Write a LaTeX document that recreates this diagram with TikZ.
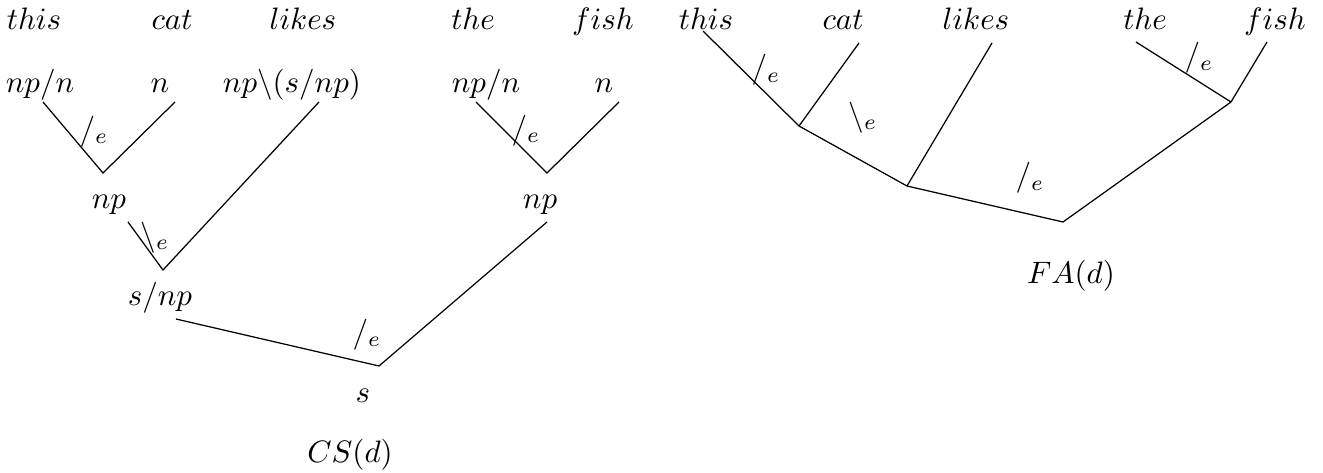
\documentclass[tikz,border=0pt]{standalone}
\begin{document}
\begin{tikzpicture}[x=0.3226pt,y=-0.3226pt,
  lbl/.style={anchor=base,inner sep=0pt},
  rl/.style={anchor=base west,inner sep=0pt},
  edge/.style={draw,line width=0.4pt}]
\useasboundingbox (0,0) rectangle (1323,473);
% ---- CS(d) tree ----
\node[lbl] (this1) at (34,29) {$this$};
\node[lbl] (cat1) at (172,29) {$cat$};
\node[lbl] (likes1) at (303,29) {$likes$};
\node[lbl] (the1) at (473,29) {$the$};
\node[lbl] (fish1) at (603,29) {$fish$};
\node[lbl] (c1) at (40,92) {$np/n$};
\node[lbl] (c2) at (160,92) {$n$};
\node[lbl] (c3) at (292,92) {$np\backslash(s/np)$};
\node[lbl] (c4) at (486,92) {$np/n$};
\node[lbl] (c5) at (604,92) {$n$};
\node[lbl] (np1) at (109,208) {$np$};
\node[lbl] (np2) at (540,208) {$np$};
\node[lbl] (snp) at (160,305) {$s/np$};
\node[lbl] (s) at (363,402) {$s$};
\node[lbl] (cs) at (350,462) {$CS(d)$};
\coordinate (a1) at (43,102);
\coordinate (a2) at (175,102);
\coordinate (j1) at (103,173);
\coordinate (a3) at (319,102);
\coordinate (a4) at (128,222);
\coordinate (j2) at (163,270);
\coordinate (a5) at (176,319);
\coordinate (j3) at (379,366);
\coordinate (a6) at (547,222);
\coordinate (a7) at (476,102);
\coordinate (a8) at (619,102);
\coordinate (j4) at (547,173);
\draw[edge] (a1) -- (j1) -- (a2);
\draw[edge] (a4) -- (j2) -- (a3);
\draw[edge] (a5) -- (j3) -- (a6);
\draw[edge] (a7) -- (j4) -- (a8);
\node[rl] (r1) at (79,139) {$/_e$};
\node[rl] (r2) at (140,245) {$\backslash_e$};
\node[rl] (r3) at (352,342) {$/_e$};
\node[rl] (r4) at (511,138) {$/_e$};
% ---- FA(d) tree ----
\node[lbl] (this2) at (706,29) {$this$};
\node[lbl] (cat2) at (843,29) {$cat$};
\node[lbl] (likes2) at (976,29) {$likes$};
\node[lbl] (the2) at (1145,29) {$the$};
\node[lbl] (fish2) at (1275,29) {$fish$};
\node[lbl] (fa) at (1071,283) {$FA(d)$};
\coordinate (b1) at (703,31);
\coordinate (b2) at (859,43);
\coordinate (b3) at (992,43);
\coordinate (b4) at (1136,42);
\coordinate (b5) at (1267,42);
\coordinate (k1) at (799,126);
\coordinate (k2) at (907,186);
\coordinate (k3) at (1063,222);
\coordinate (k4) at (1231,102);
\draw[edge] (b1) -- (k1) -- (k2) -- (k3) -- (k4) -- (b5);
\draw[edge] (b2) -- (k1);
\draw[edge] (b3) -- (k2);
\draw[edge] (b4) -- (k4);
\node[rl] (r5) at (751,78) {$/_e$};
\node[rl] (r6) at (848,125) {$\backslash_e$};
\node[rl] (r7) at (1015,186) {$/_e$};
\node[rl] (r8) at (1184,66) {$/_e$};
\end{tikzpicture}
\end{document}
